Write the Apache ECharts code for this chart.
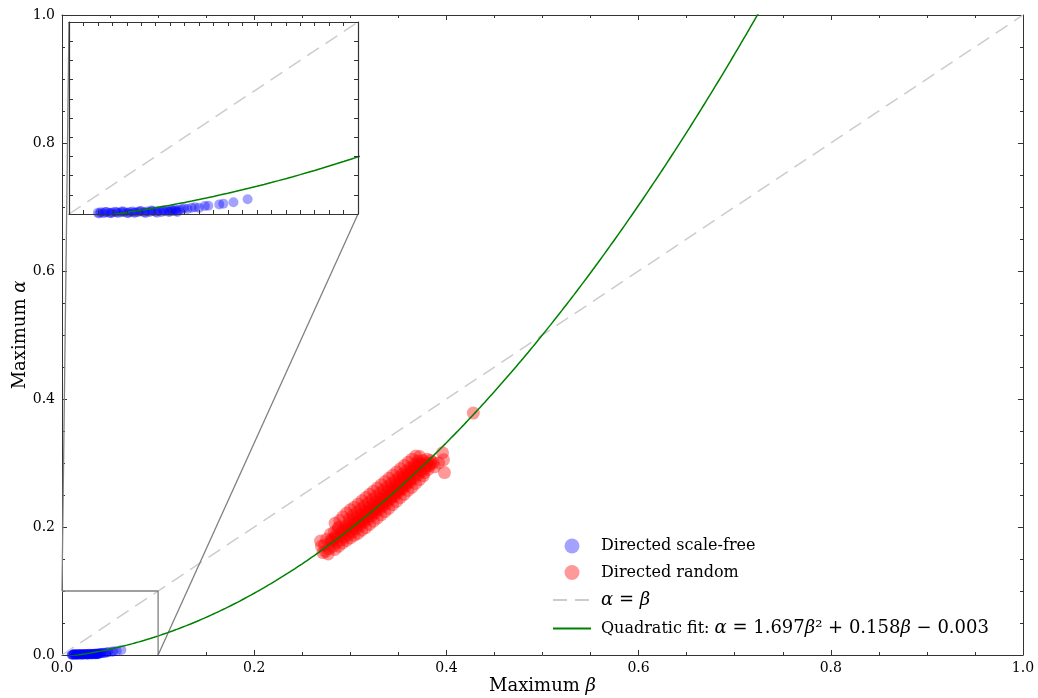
<!DOCTYPE html>
<html>
<head>
<meta charset="utf-8">
<script src="https://cdn.jsdelivr.net/npm/echarts@6/dist/echarts.min.js"></script>
<style>
  html, body { margin: 0; padding: 0; background: #fff; }
  #chart { width: 1038px; height: 698px; }
</style>
</head>
<body>
<div id="chart"></div>
<script>
// directed scale-free networks: [max beta, max alpha]
var scaleFreePoints = [
  [0.010,0.0006],[0.011,0.0009],[0.012,0.0004],[0.013,0.0010],[0.014,0.0006],[0.015,0.0008],
  [0.016,0.0012],[0.017,0.0005],[0.018,0.0009],[0.019,0.0011],[0.020,0.0007],[0.021,0.0010],
  [0.022,0.0013],[0.023,0.0008],[0.024,0.0011],[0.025,0.0014],[0.026,0.0009],[0.027,0.0013],
  [0.028,0.0010],[0.029,0.0015],[0.030,0.0012],[0.031,0.0016],[0.032,0.0011],[0.033,0.0014],
  [0.034,0.0018],[0.035,0.0013],[0.036,0.0017],[0.0367,0.0024],[0.037,0.0015],[0.038,0.0021],
  [0.0398,0.0030],[0.041,0.0026],[0.0424,0.0033],[0.0436,0.0035],[0.045,0.0032],[0.047,0.0042],
  [0.0482,0.0043],[0.052,0.0050],[0.0534,0.0054],[0.0569,0.0061],[0.0618,0.0077],
  [0.0105,0.0003],[0.0125,0.0011],[0.0145,0.0004],[0.0165,0.0009],[0.0185,0.0014],[0.0205,0.0004],
  [0.0225,0.0007],[0.0245,0.0016],[0.0265,0.0005],[0.0285,0.0018],[0.0305,0.0007],[0.0325,0.0019],
  [0.0345,0.0010],[0.0355,0.0021],[0.0375,0.0011],[0.039,0.0025]
];

// directed random networks: [max beta, max alpha]
var randomPoints = [
  [0.270,0.170],[0.2715,0.160],[0.269,0.178],
  [0.274,0.162],[0.2755,0.181],[0.273,0.172],
  [0.278,0.166],[0.2795,0.189],[0.277,0.158],[0.280,0.178],
  [0.282,0.170],[0.2835,0.192],[0.281,0.181],[0.284,0.165],
  [0.286,0.176],[0.2875,0.198],[0.285,0.187],[0.288,0.170],[0.2842,0.206],
  [0.290,0.180],[0.2915,0.193],[0.289,0.210],[0.292,0.175],[0.2882,0.200],
  [0.294,0.184],[0.2955,0.202],[0.293,0.196],[0.296,0.179],[0.2922,0.216],
  [0.298,0.188],[0.2995,0.207],[0.297,0.199],[0.300,0.183],[0.2962,0.222],[0.2988,0.212],
  [0.302,0.192],[0.3035,0.211],[0.301,0.204],[0.304,0.187],[0.3002,0.227],[0.3028,0.218],
  [0.306,0.197],[0.3075,0.216],[0.305,0.208],[0.308,0.190],[0.3042,0.231],[0.3068,0.223],
  [0.310,0.202],[0.3115,0.220],[0.309,0.213],[0.312,0.195],[0.3082,0.236],[0.3108,0.228],[0.3095,0.208],
  [0.314,0.207],[0.3155,0.225],[0.313,0.218],[0.316,0.199],[0.3122,0.241],[0.3148,0.233],[0.3135,0.212],
  [0.318,0.212],[0.3195,0.230],[0.317,0.223],[0.320,0.204],[0.3162,0.246],[0.3188,0.238],[0.3175,0.217],
  [0.322,0.217],[0.3235,0.235],[0.321,0.228],[0.324,0.209],[0.3202,0.251],[0.3228,0.243],[0.3215,0.222],
  [0.326,0.222],[0.3275,0.240],[0.325,0.233],[0.328,0.214],[0.3242,0.256],[0.3268,0.248],[0.3255,0.227],
  [0.330,0.227],[0.3315,0.245],[0.329,0.238],[0.332,0.219],[0.3282,0.261],[0.3308,0.253],[0.3295,0.232],
  [0.334,0.232],[0.3355,0.250],[0.333,0.243],[0.336,0.224],[0.3322,0.266],[0.3348,0.258],[0.3335,0.237],
  [0.338,0.237],[0.3395,0.256],[0.337,0.249],[0.340,0.229],[0.3362,0.271],[0.3388,0.263],[0.3375,0.242],
  [0.342,0.243],[0.3435,0.261],[0.341,0.254],[0.344,0.235],[0.3402,0.276],[0.3428,0.268],[0.3415,0.247],
  [0.346,0.248],[0.3475,0.266],[0.345,0.259],[0.348,0.240],[0.3442,0.281],[0.3468,0.273],[0.3455,0.252],
  [0.350,0.254],[0.3515,0.272],[0.349,0.265],[0.352,0.246],[0.3482,0.286],[0.3508,0.278],[0.3495,0.257],
  [0.354,0.259],[0.3555,0.277],[0.353,0.270],[0.356,0.251],[0.3522,0.291],[0.3548,0.283],[0.3535,0.262],
  [0.358,0.265],[0.3595,0.283],[0.357,0.276],[0.360,0.257],[0.3562,0.296],[0.3588,0.288],[0.3575,0.268],
  [0.362,0.270],[0.3635,0.288],[0.361,0.281],[0.364,0.262],[0.3602,0.301],[0.3628,0.293],[0.3615,0.273],
  [0.366,0.276],[0.3675,0.294],[0.365,0.287],[0.368,0.268],[0.3642,0.306],[0.3668,0.298],
  [0.370,0.281],[0.3715,0.299],[0.369,0.292],[0.372,0.274],[0.3682,0.311],[0.3708,0.303],
  [0.374,0.287],[0.3755,0.304],[0.373,0.297],[0.376,0.280],[0.3722,0.310],
  [0.378,0.292],[0.3795,0.300],[0.377,0.285],[0.380,0.306],
  [0.382,0.296],[0.3835,0.304],[0.381,0.290],
  [0.386,0.301],[0.3875,0.294],
  [0.392,0.300],[0.396,0.316],[0.397,0.305],[0.398,0.285],[0.428,0.378],
  // dense core along the fit
  [0.281,0.176],[0.284,0.183],[0.287,0.184],[0.291,0.190],[0.293,0.187],[0.296,0.195],[0.299,0.194],
  [0.301,0.200],[0.303,0.198],[0.306,0.206],[0.308,0.203],[0.311,0.212],[0.313,0.209],[0.316,0.219],
  [0.318,0.216],[0.321,0.225],[0.323,0.222],[0.326,0.231],[0.328,0.228],[0.331,0.238],[0.333,0.234],
  [0.336,0.244],[0.338,0.241],[0.341,0.251],[0.343,0.247],[0.346,0.258],[0.348,0.254],[0.351,0.265],
  [0.353,0.261],[0.356,0.272],[0.358,0.268],[0.361,0.279],[0.363,0.275],[0.366,0.286],[0.368,0.282],
  [0.371,0.293],[0.373,0.289],[0.376,0.298],[0.379,0.296],[0.384,0.299]
];

// quadratic fit from the legend: alpha = c2*beta^2 + c1*beta + c0
var fitCoef = [1.697, 0.158, -0.003];
var zoomBox = 0.1;   // inset shows [0, 0.1] x [0, 0.1]

var fitLine = [];
for (var b = 0; b <= 0.76; b += 0.0025) {
  fitLine.push([b, fitCoef[0] * b * b + fitCoef[1] * b + fitCoef[2]]);
}
var diagLine = [[0, 0], [1, 1]];

var serif = 'DejaVu Serif';
var axisColor = '#333';

function frameAxis(extra) {
  var ax = {
    type: 'value',
    splitLine: { show: false },
    axisLine: { show: true, onZero: false, lineStyle: { color: axisColor, width: 1 } },
    axisTick: { show: true, inside: true, length: 5, lineStyle: { color: axisColor } },
    minorTick: { show: true, splitNumber: 4, length: 3, lineStyle: { color: axisColor } },
    axisLabel: { show: false }
  };
  return Object.assign(ax, extra);
}

// inset frame: ticks only, drawn above everything of the main axes
function insetAxis(extra) {
  return frameAxis(Object.assign({
    gridIndex: 1, min: 0, max: zoomBox, z: 10,
    axisLine: { show: true, onZero: false, lineStyle: { color: axisColor, width: 1.2 } },
    axisTick: { show: true, inside: true, length: 4, lineStyle: { color: axisColor } },
    minorTick: { show: false }
  }, extra));
}

var labelStyle = { show: true, fontFamily: serif, fontSize: 14, color: '#000',
  formatter: function (v) { return v.toFixed(1); } };

var nameRich = {
  n: { fontFamily: serif, fontSize: 18, color: '#000' },
  g: { fontFamily: serif, fontSize: 18, fontStyle: 'italic', color: '#000' }
};

var chart = echarts.init(document.getElementById('chart'));

var option = {
  animation: false,
  backgroundColor: '#fff',
  grid: [
    { left: 62, top: 15, width: 961, height: 640, outerBoundsMode: 'none', containLabel: false },
    { left: 69, top: 22, width: 289, height: 192, outerBoundsMode: 'none', containLabel: false }
  ],
  xAxis: [
    frameAxis({ gridIndex: 0, position: 'bottom', min: 0, max: 1, interval: 0.2,
      axisLabel: Object.assign({ margin: 6 }, labelStyle),
      name: '{n|Maximum }{g|β}', nameLocation: 'middle', nameGap: 22, nameMoveOverlap: false,
      nameTextStyle: { rich: nameRich } }),
    frameAxis({ gridIndex: 0, position: 'top', min: 0, max: 1, interval: 0.2 }),
    insetAxis({ position: 'bottom', interval: 0.005 }),
    insetAxis({ position: 'top', interval: 0.005 })
  ],
  yAxis: [
    frameAxis({ gridIndex: 0, position: 'left', min: 0, max: 1, interval: 0.2,
      axisLabel: Object.assign({ margin: 7 }, labelStyle),
      name: '{n|Maximum }{g|α}', nameLocation: 'middle', nameGap: 33, nameMoveOverlap: false,
      nameTextStyle: { rich: nameRich } }),
    frameAxis({ gridIndex: 0, position: 'right', min: 0, max: 1, interval: 0.2 }),
    insetAxis({ position: 'left', interval: 0.01 }),
    insetAxis({ position: 'right', interval: 0.01 })
  ],
  legend: {
    data: [
      'Directed scale-free',
      'Directed random',
      { name: 'alpha=beta', itemStyle: { opacity: 0 } },
      { name: 'Quadratic fit', itemStyle: { opacity: 0 } }
    ],
    orient: 'vertical',
    left: 547, top: 533,
    itemWidth: 38, itemHeight: 15, itemGap: 10.5,
    selectedMode: false,
    formatter: function (name) {
      if (name === 'alpha=beta') return '{g|α}{m| = }{g|β}';
      if (name === 'Quadratic fit') return '{t|Quadratic fit: }{g|α}{m| = 1.697}{g|β}{m|² + 0.158}{g|β}{m| − 0.003}';
      return '{t|' + name + '}';
    },
    textStyle: {
      padding: [0, 0, 0, 5],
      rich: {
        t: { fontFamily: serif, fontSize: 16, color: '#000' },
        m: { fontFamily: serif, fontSize: 18, color: '#000' },
        g: { fontFamily: serif, fontSize: 18, fontStyle: 'italic', color: '#000' }
      }
    }
  },
  series: [
    { name: 'Directed scale-free', type: 'scatter', xAxisIndex: 0, yAxisIndex: 0,
      data: scaleFreePoints, symbolSize: 10, z: 2,
      itemStyle: { color: 'rgba(0,0,255,0.45)' } },
    { name: 'Directed random', type: 'scatter', xAxisIndex: 0, yAxisIndex: 0,
      data: randomPoints, symbolSize: 13, z: 2,
      itemStyle: { color: 'rgba(255,0,0,0.5)' } },
    { name: 'alpha=beta', type: 'line', xAxisIndex: 0, yAxisIndex: 0, data: diagLine,
      symbol: 'none', z: 3, silent: true,
      itemStyle: { color: '#cccccc' },
      lineStyle: { color: '#cccccc', width: 1.5, type: [14, 8] } },
    { name: 'Quadratic fit', type: 'line', xAxisIndex: 0, yAxisIndex: 0, data: fitLine,
      symbol: 'none', z: 4, silent: true,
      itemStyle: { color: '#008000' },
      lineStyle: { color: '#008000', width: 1.5 } },
    // zoom box on the main axes
    { type: 'line', xAxisIndex: 0, yAxisIndex: 0, symbol: 'none', silent: true, z: 4,
      data: [[0, zoomBox], [zoomBox, zoomBox], [zoomBox, 0]],
      lineStyle: { color: '#808080', width: 1.3 } },
    // inset
    { name: 'Directed scale-free', type: 'scatter', xAxisIndex: 2, yAxisIndex: 2,
      data: scaleFreePoints, symbolSize: 10, z: 6,
      itemStyle: { color: 'rgba(0,0,255,0.45)' } },
    { name: 'alpha=beta', type: 'line', xAxisIndex: 2, yAxisIndex: 2, data: diagLine,
      symbol: 'none', z: 7, silent: true,
      itemStyle: { color: '#cccccc' },
      lineStyle: { color: '#cccccc', width: 1.5, type: [14, 8] } },
    { name: 'Quadratic fit', type: 'line', xAxisIndex: 2, yAxisIndex: 2, data: fitLine,
      symbol: 'none', z: 8, silent: true,
      itemStyle: { color: '#008000' },
      lineStyle: { color: '#008000', width: 1.5 } }
  ]
};

chart.setOption(option);

// connector lines between the zoom box and the inset corners
var mainFinder = { xAxisIndex: 0, yAxisIndex: 0 };
var insetFinder = { xAxisIndex: 2, yAxisIndex: 2 };
var a1 = chart.convertToPixel(mainFinder, [0, zoomBox]);
var b1 = chart.convertToPixel(insetFinder, [0, zoomBox]);
var a2 = chart.convertToPixel(mainFinder, [zoomBox, 0]);
var b2 = chart.convertToPixel(insetFinder, [zoomBox, 0]);
chart.setOption({
  graphic: [
    { type: 'line', z: 4, silent: true, shape: { x1: a1[0], y1: a1[1], x2: b1[0], y2: b1[1] },
      style: { stroke: '#808080', lineWidth: 1.3 } },
    { type: 'line', z: 4, silent: true, shape: { x1: a2[0], y1: a2[1], x2: b2[0], y2: b2[1] },
      style: { stroke: '#808080', lineWidth: 1.3 } }
  ]
});
</script>
</body>
</html>
